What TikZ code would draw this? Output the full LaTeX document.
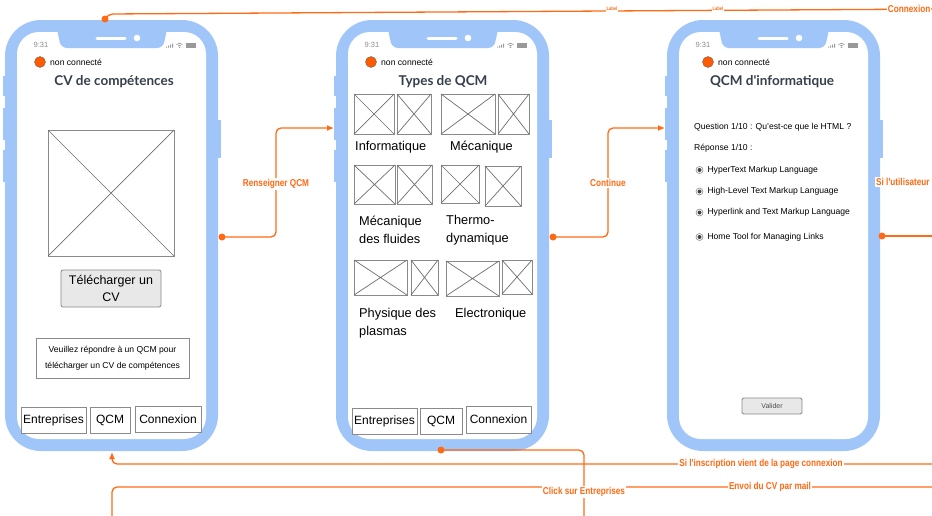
\documentclass[tikz,border=0pt]{standalone}
\usepackage{fontspec}
\setmainfont{Liberation Sans}
\newfontfamily\titlefont{Lato}
\newfontfamily\lblfont[FakeStretch=0.82]{Liberation Sans}
\usetikzlibrary{arrows.meta,positioning}
\definecolor{phoneblue}{HTML}{A0C6F9}
\definecolor{conn}{HTML}{FF6A14}
\definecolor{boxgray}{HTML}{8A8A8A}
\definecolor{btnfill}{HTML}{E8E8E8}
\definecolor{titlecol}{HTML}{363F4C}
\definecolor{dotfill}{HTML}{FF5A00}
\newcommand{\fs}[1]{\fontsize{#1}{#1}\selectfont}
\newcommand{\drawphone}[2]{%
\begin{scope}[xshift=#1pt]
  \fill[phoneblue] (3,76) rectangle (8,96);
  \fill[phoneblue] (3,108) rectangle (8,140);
  \fill[phoneblue] (3,150) rectangle (8,182);
  \fill[phoneblue] (214,120) rectangle (221,158);
  \fill[phoneblue, rounded corners=36pt] (5,20) rectangle (218,451);
  \fill[white, rounded corners=22pt] (17,32) rectangle (206,439);
  \fill[phoneblue, rounded corners=6pt] (56,25) -- (61,48) -- (163,48) -- (168,25) -- cycle;
  \draw[white, line width=3pt, line cap=round] (97,38) -- (125,38);
  \fill[white] (137,38) circle (3.3);
  \node[stat] (#2-time) at (41,45) {9:31};
  \fill[gray!80] (166,47.5) rectangle (167,46.5) (168,47.5) rectangle (169,45.5) (170,47.5) rectangle (171,44.5) (172,47.5) rectangle (173,43.5);
  \draw[gray!80, line width=0.7pt] (176.5,44.6) to[bend left=50] (182.5,44.6);
  \draw[gray!80, line width=0.7pt] (178,46) to[bend left=50] (181,46);
  \fill[gray!80] (179.5,47.4) circle (0.8);
  \draw[gray!80, line width=0.6pt] (186.5,43.5) rectangle (195.5,47.5);
  \fill[gray!80] (187.3,44.3) rectangle (194.7,46.7);
\end{scope}}
\tikzset{
  stat/.style={font=\fs{7.5}, text=gray!90, inner sep=0pt},
  statusdot/.style={circle, fill=dotfill, draw=black!60, line width=0.4pt, minimum size=11pt, inner sep=0pt},
  nc/.style={font=\fs{8.6}, anchor=west, inner sep=0pt},
  ttl/.style={font=\titlefont\bfseries\fs{13.5}, text=titlecol, inner sep=0pt},
  phx/.style={draw=boxgray, line width=0.8pt, fill=white},
  navbtn/.style={draw=boxgray, line width=0.8pt, fill=white, font=\fs{12}, inner sep=0pt},
  lbl/.style={font=\fs{12.8}, align=left, anchor=west, inner sep=0pt},
  small/.style={font=\fs{8.6}, anchor=west, inner sep=0pt},
  conline/.style={draw=conn, line width=1.3pt, rounded corners=5pt},
  tip/.style={-{Latex[length=7pt,width=6pt]}},
  cdot/.style={circle, fill=conn, minimum size=7pt, inner sep=0pt},
  clabel/.style={fill=white, text=conn, font=\lblfont\bfseries\fs{10}, inner sep=1pt},
  radio/.style={circle, draw=gray!90, line width=0.6pt, minimum size=7pt, inner sep=0pt, path picture={\fill[black!75] (path picture bounding box.center) circle (2pt);}},
}
\newcommand{\phimg}[4]{\draw[phx] (#1,#2) rectangle (#3,#4); \draw[boxgray!80!black, line width=0.7pt] (#1,#2) -- (#3,#4) (#1,#4) -- (#3,#2);}
\begin{document}
\begin{tikzpicture}[x=1pt,y=-1pt]
\useasboundingbox (0,0) rectangle (932,515);
\clip (0,0) rectangle (932,515);
\fill[white] (0,0) rectangle (932,515);
% phones
\drawphone{0}{p1}
\drawphone{331}{p2}
\drawphone{662}{p3}

% ---------- phone 1 ----------
\node[statusdot] (p1-dot) at (40,62) {};
\node[nc] (p1-nc) at (50,62) {non connecté};
\node[ttl] (p1-title) at (114,82) {CV de compétences};
\phimg{48}{130}{174}{256}
\node[draw=boxgray, line width=0.8pt, fill=btnfill, rounded corners=2pt, minimum width=100pt, minimum height=37pt, inner sep=0pt, align=center, font=\fontsize{12.5}{17}\selectfont] (p1-dl) at (111,288.5) {Télécharger un\\CV};
\node[draw=boxgray, line width=0.8pt, fill=white, minimum width=153pt, minimum height=40pt, inner sep=0pt, align=center, font=\fontsize{8.6}{16}\selectfont] (p1-info) at (112.5,358) {Veuillez répondre à un QCM pour\\télécharger un CV de compétences};
\node[navbtn, minimum width=65pt, minimum height=26pt] (p1-ent) at (53.5,420) {Entreprises};
\node[navbtn, minimum width=40pt, minimum height=26pt] (p1-qcm) at (110,420) {QCM};
\node[navbtn, minimum width=66pt, minimum height=26pt] (p1-con) at (168,419) {Connexion};

% ---------- phone 2 ----------
\node[statusdot] (p2-dot) at (371,62) {};
\node[nc] (p2-nc) at (381,62) {non connecté};
\node[ttl] (p2-title) at (443,82) {Types de QCM};
\phimg{354}{94}{394}{134}
\phimg{397}{94}{431}{134}
\phimg{441}{94}{495}{134}
\phimg{498}{94}{529}{134}
\node[lbl] (p2-info) at (355,147) {Informatique};
\node[lbl] (p2-meca) at (450,147) {Mécanique};
\phimg{354}{165}{395}{204}
\phimg{397}{165}{432}{204}
\phimg{441}{165}{479}{203}
\phimg{485}{166}{521}{206}
\node[lbl, font=\fontsize{12.8}{18}\selectfont] (p2-fluid) at (359,230) {Mécanique\\des fluides};
\node[lbl, font=\fontsize{12.8}{18}\selectfont] (p2-thermo) at (446,230) {Thermo-\\dynamique};
\phimg{354}{260}{407}{295}
\phimg{411}{260}{438}{295}
\phimg{446}{261}{499}{296}
\phimg{502}{260}{532}{294}
\node[lbl, font=\fontsize{12.8}{18}\selectfont] (p2-phys) at (359,323) {Physique des\\plasmas};
\node[lbl] (p2-elec) at (455,314) {Electronique};
\node[navbtn, minimum width=65pt, minimum height=26pt] (p2-ent) at (384.5,421) {Entreprises};
\node[navbtn, minimum width=42pt, minimum height=26pt] (p2-qcm) at (441,421) {QCM};
\node[navbtn, minimum width=65pt, minimum height=27pt] (p2-con) at (498.5,419.5) {Connexion};

% ---------- phone 3 ----------
\node[statusdot] (p3-dot) at (708,62) {};
\node[nc] (p3-nc) at (718,62) {non connecté};
\node[ttl] (p3-title) at (772,82) {QCM d'informatique};
\node[small] (p3-q) at (694,127) {Question 1/10 : Qu'est-ce que le HTML ?};
\node[small] (p3-r) at (694,148) {Réponse 1/10 :};
\node[radio] (p3-r1) at (699.5,170) {};
\node[small, right=4pt of p3-r1] (p3-t1) {HyperText Markup Language};
\node[radio] (p3-r2) at (699.5,191.5) {};
\node[small, right=4pt of p3-r2] (p3-t2) {High-Level Text Markup Language};
\node[radio] (p3-r3) at (699.5,212.5) {};
\node[small, right=4pt of p3-r3] (p3-t3) {Hyperlink and Text Markup Language};
\node[radio] (p3-r4) at (699.5,237) {};
\node[small, right=4pt of p3-r4] (p3-t4) {Home Tool for Managing Links};
\node[draw=boxgray, line width=0.8pt, fill=btnfill, rounded corners=1.5pt, minimum width=60pt, minimum height=16pt, inner sep=0pt, font=\fs{7}, text=black!70] (p3-val) at (772,406) {Valider};

% ---------- connectors ----------
\coordinate (p1-r) at (222,237);
\coordinate (p2-l) at (334,128);
\coordinate (p2-r) at (553,237);
\coordinate (p3-l) at (665,128);
\coordinate (p3-rr) at (882,236);
\coordinate (p1-top) at (105,19);
\coordinate (p1-bot) at (112,452);
\coordinate (p2-bot) at (441,450);
\coordinate (eR1) at (940,9);
\coordinate (eR2) at (940,236);
\coordinate (eR3) at (940,464);
\coordinate (eR4) at (940,487);
\coordinate (eB1) at (584,520);
\coordinate (eB2) at (112,520);

\path[conline, tip] (p1-r) -- (276,237) -- (276,128) -- (p2-l);
\node[cdot] at (p1-r) {};
\node[clabel] (l-rens) at (276,184) {Renseigner QCM};

\path[conline, tip] (p2-r) -- (608,237) -- (608,128) -- (p3-l);
\node[cdot] at (p2-r) {};
\node[clabel] (l-cont) at (608,183) {Continue};

\path[conline] (p3-rr) -- (eR2);
\node[cdot] at (p3-rr) {};
\node[clabel, anchor=west] (l-util) at (875,182) {Si l'utilisateur};

\path[conline] (p1-top) -- (108,14) -- (eR1);
\node[cdot] at (p1-top) {};
\node[clabel, font=\lblfont\bfseries\fs{5}] (l-lab1) at (612,9.2) {Label};
\node[clabel, font=\lblfont\bfseries\fs{5}] (l-lab2) at (718,8.8) {Label};
\node[clabel, anchor=east, font=\lblfont\bfseries\fs{10}] (l-conx) at (931.5,8.5) {Connexion};

\path[conline, tip] (eR3) -- (112,464) -- (p1-bot);
\node[clabel] (l-insc) at (761,464) {Si l'inscription vient de la page connexion};

\path[conline] (eR4) -- (112,487) -- (eB2);
\node[clabel] (l-envoi) at (770,487) {Envoi du CV par mail};

\path[conline] (p2-bot) -- (584,450) -- (eB1);
\node[cdot] at (p2-bot) {};
\node[clabel] (l-click) at (584,492) {Click sur Entreprises};
\end{tikzpicture}
\end{document}
